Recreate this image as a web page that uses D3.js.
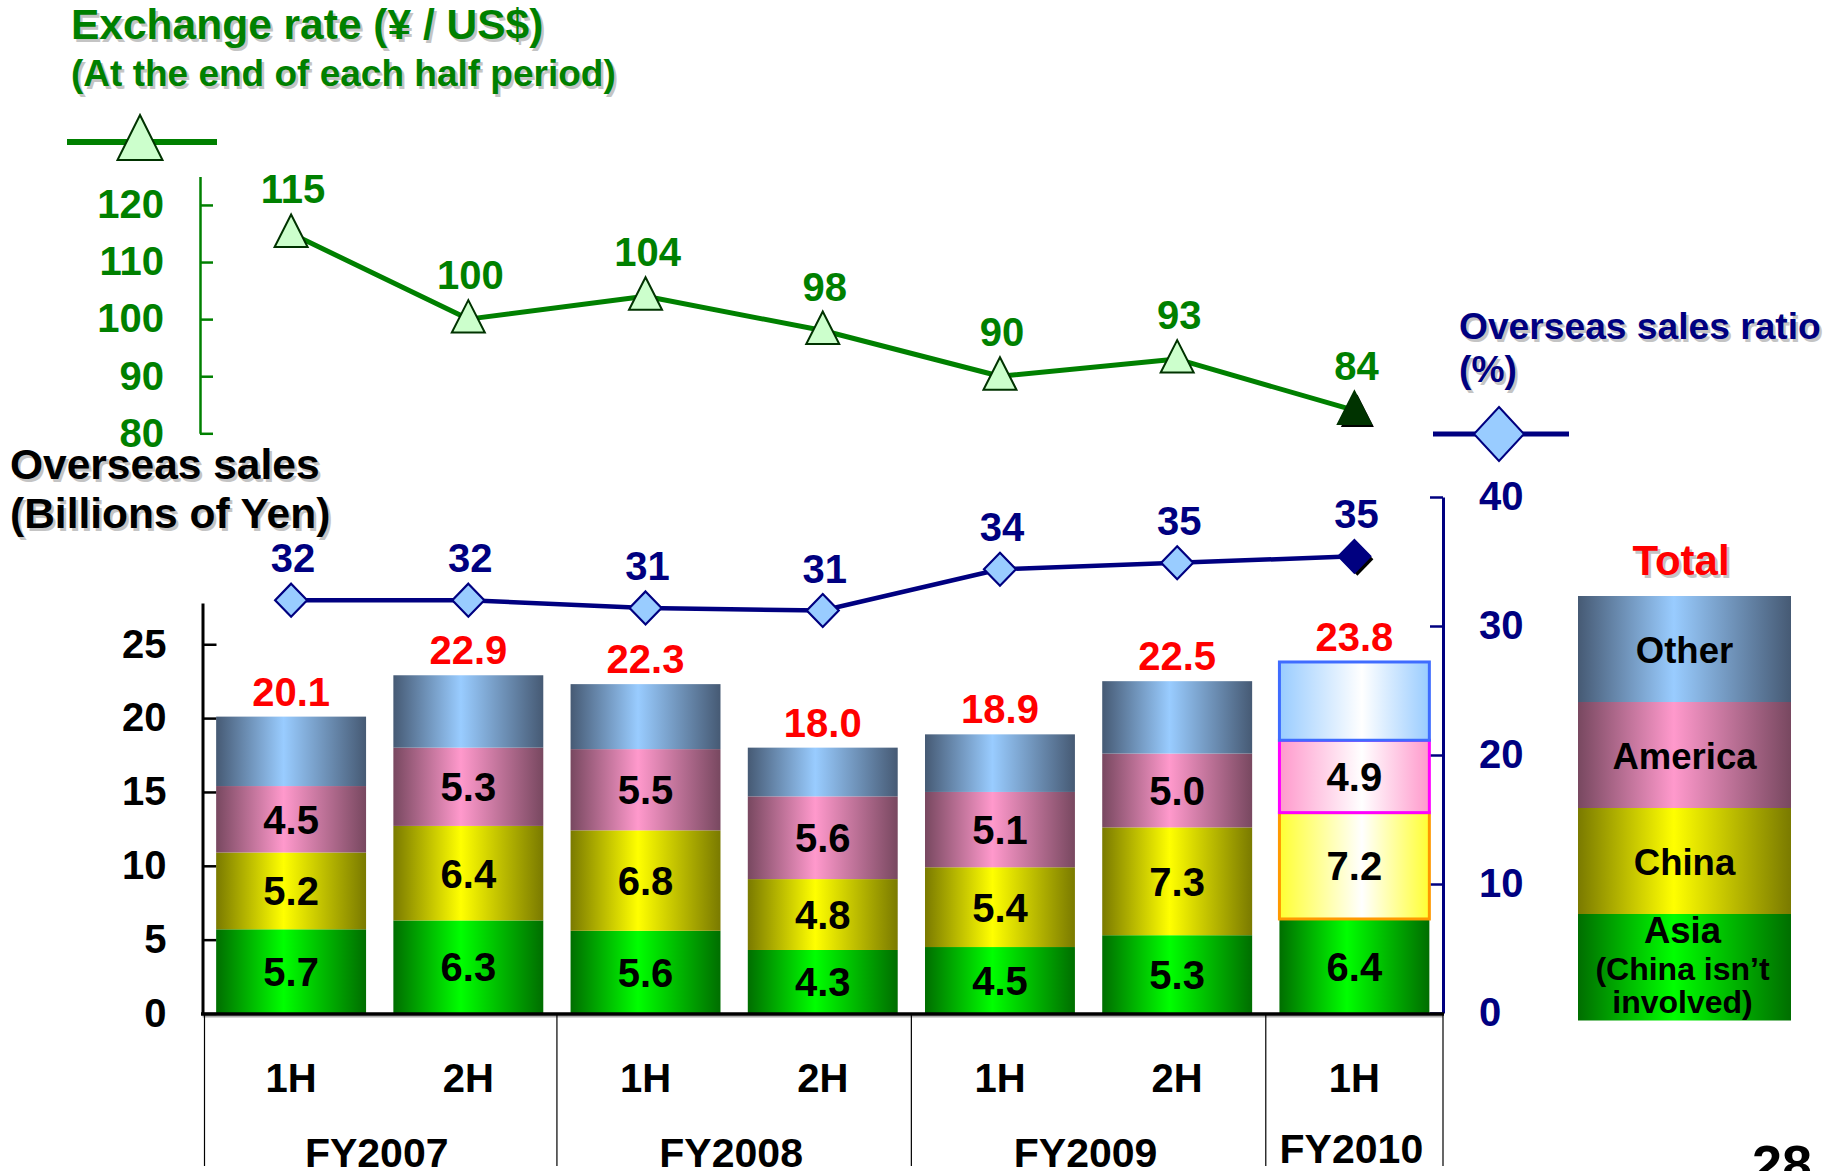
<!DOCTYPE html>
<html>
<head>
<meta charset="utf-8">
<script src="https://cdn.jsdelivr.net/npm/d3@7"></script>
<style>
  html, body { margin: 0; padding: 0; background: #ffffff; }
  svg { display: block; font-family: "Liberation Sans", Arial, Helvetica, sans-serif; font-weight: bold; }
</style>
</head>
<body>
<svg id="chart" width="1833" height="1171"></svg>
<script>
// ---- data ----
const periods = ["1H", "2H", "1H", "2H", "1H", "2H", "1H"];
const fiscalYears = ["FY2007", "FY2008", "FY2009", "FY2010"];
const fiscalSpans = [2, 2, 2, 1];

// Overseas sales by region (billions of yen)
const asia    = [5.7, 6.3, 5.6, 4.3, 4.5, 5.3, 6.4];
const china   = [5.2, 6.4, 6.8, 4.8, 5.4, 7.3, 7.2];
const america = [4.5, 5.3, 5.5, 5.6, 5.1, 5.0, 4.9];
const totals  = [20.1, 22.9, 22.3, 18.0, 18.9, 22.5, 23.8];

// Exchange rate (yen per US$) at the end of each half
const exchangeRate = [115, 100, 104, 98, 90, 93, 84];
// Overseas sales ratio (%)
const overseasRatio = [32.0, 32.0, 31.4, 31.2, 34.4, 34.9, 35.4];

const salesTicks = [0, 5, 10, 15, 20, 25];
const rateTicks  = [80, 90, 100, 110, 120];
const ratioTicks = [0, 10, 20, 30, 40];

const regionKeys   = ["asia", "china", "america", "other"];
const regionLabels = { other: ["Other"], america: ["America"], china: ["China"] };

// ---- colours ----
const GREEN = "#008000", NAVY = "#000080", RED = "#ff0000";
const shade = {
  asia:    { edge: "#006e00", mid: "#00ff00" },
  china:   { edge: "#7a7a00", mid: "#ffff00" },
  america: { edge: "#784860", mid: "#ff99cc" },
  other:   { edge: "#465a74", mid: "#99ccff" }
};
const latest = {
  china:   { edge: "#ffff33", stroke: "#ff9900" },
  america: { edge: "#ff99cc", stroke: "#ff00ff" },
  other:   { edge: "#99ccff", stroke: "#3f6cff" }
};

const svg = d3.select("#chart");
const defs = svg.append("defs");

regionKeys.forEach(k => {
  const g = defs.append("linearGradient").attr("id", "g-" + k)
    .attr("x1", 0).attr("x2", 1).attr("y1", 0).attr("y2", 0);
  g.append("stop").attr("offset", "0%").attr("stop-color", shade[k].edge);
  g.append("stop").attr("offset", "45%").attr("stop-color", shade[k].mid);
  g.append("stop").attr("offset", "100%").attr("stop-color", shade[k].edge);
});
Object.keys(latest).forEach(k => {
  const g = defs.append("linearGradient").attr("id", "h-" + k)
    .attr("x1", 0).attr("x2", 1).attr("y1", 0).attr("y2", 0);
  g.append("stop").attr("offset", "0%").attr("stop-color", latest[k].edge);
  g.append("stop").attr("offset", "55%").attr("stop-color", "#ffffff");
  g.append("stop").attr("offset", "100%").attr("stop-color", latest[k].edge);
});

// ---- scales ----
const x = d3.scaleBand().domain(d3.range(periods.length))
  .range([202.5, 1443]).paddingInner(0.154).paddingOuter(0.077);
const cx = i => x(i) + x.bandwidth() / 2;
const ySales = d3.scaleLinear().domain([0, 27.8]).range([1013.5, 1013.5 - 27.8 * 14.77]);
const yRate  = d3.scaleLinear().domain([80, 125]).range([433.3, 176.4]);
const yRatio = d3.scaleLinear().domain([0, 40]).range([1013, 497]);

// text with a soft grey drop shadow
function shadowText(parent, str, px, py, size, color, anchor) {
  [["#c4c4c4", 2.5], [color, 0]].forEach(([c, o]) => {
    parent.append("text").attr("x", px + o).attr("y", py + o)
      .attr("font-size", size).attr("fill", c)
      .attr("text-anchor", anchor || "start").text(str);
  });
}

// ---- titles ----
shadowText(svg, "Exchange rate (¥ / US$)", 71, 39, 42.5, GREEN);
shadowText(svg, "(At the end of each half period)", 71, 86, 37, GREEN);
shadowText(svg, "Overseas sales", 10, 479, 42.5, "#000000");
shadowText(svg, "(Billions of Yen)", 10, 528, 42.5, "#000000");
shadowText(svg, "Overseas sales ratio", 1459, 339, 37.2, NAVY);
shadowText(svg, "(%)", 1459, 382, 37.2, NAVY);
shadowText(svg, "Total", 1681, 575, 42, RED, "middle");

// ---- legend glyphs for the two lines ----
const tri = (px, py, w, up, down) =>
  `M${px},${py - up}L${px + w / 2},${py + down}L${px - w / 2},${py + down}Z`;
const dia = (px, py, hw, hh) =>
  `M${px},${py - hh}L${px + hw},${py}L${px},${py + hh}L${px - hw},${py}Z`;

svg.append("line").attr("x1", 67).attr("x2", 217).attr("y1", 142).attr("y2", 142)
  .attr("stroke", GREEN).attr("stroke-width", 6);
svg.append("path").attr("d", tri(140, 142, 45, 27, 18))
  .attr("fill", "#ccffcc").attr("stroke", "#003300").attr("stroke-width", 2);

svg.append("line").attr("x1", 1433).attr("x2", 1569).attr("y1", 434).attr("y2", 434)
  .attr("stroke", NAVY).attr("stroke-width", 5);
svg.append("path").attr("d", dia(1499, 434, 25, 27))
  .attr("fill", "#99ccff").attr("stroke", NAVY).attr("stroke-width", 2);

// ---- axes ----
function styleAxis(g, color, width, tickWidth) {
  g.attr("font-family", null).attr("font-size", 40).attr("font-weight", "bold");
  g.select(".domain").attr("stroke", color).attr("stroke-width", width);
  g.selectAll(".tick line").attr("stroke", color).attr("stroke-width", tickWidth);
  g.selectAll(".tick text").attr("fill", color);
}

const rateAxis = svg.append("g").attr("transform", "translate(200,0)")
  .call(d3.axisLeft(yRate).tickValues(rateTicks).tickSizeInner(-13).tickSizeOuter(0).tickPadding(36));
styleAxis(rateAxis, GREEN, 2.5, 2.5);

const salesAxis = svg.append("g").attr("transform", "translate(202.5,0)")
  .call(d3.axisLeft(ySales).tickValues(salesTicks).tickSizeInner(-14).tickSizeOuter(0).tickPadding(36));
styleAxis(salesAxis, "#000000", 3, 2.5);

const ratioAxis = svg.append("g").attr("transform", "translate(1443,0)")
  .call(d3.axisRight(yRatio).tickValues(ratioTicks).tickSizeInner(-13).tickSizeOuter(0).tickPadding(36));
styleAxis(ratioAxis, NAVY, 3, 2.5);

// ---- stacked bars ----
const rows = periods.map((p, i) => ({
  asia: asia[i], china: china[i], america: america[i],
  other: totals[i] - asia[i] - china[i] - america[i]
}));
const layers = d3.stack().keys(regionKeys)(rows);
const last = periods.length - 1;
const barG = svg.append("g");

layers.forEach(layer => {
  const k = layer.key;
  barG.selectAll(null).data(layer).join("rect")
    .attr("x", (d, i) => x(i))
    .attr("width", x.bandwidth())
    .attr("y", d => ySales(d[1]))
    .attr("height", d => ySales(d[0]) - ySales(d[1]))
    .attr("fill", (d, i) => (i === last && latest[k]) ? `url(#h-${k})` : `url(#g-${k})`)
    .attr("stroke", (d, i) => (i === last && latest[k]) ? latest[k].stroke : "none")
    .attr("stroke-width", 3);
});

// segment values (Other carries no label)
layers.filter(l => l.key !== "other").forEach(layer => {
  barG.selectAll(null).data(layer).join("text")
    .attr("x", (d, i) => cx(i))
    .attr("y", d => (ySales(d[0]) + ySales(d[1])) / 2)
    .attr("dy", "0.36em")
    .attr("text-anchor", "middle")
    .attr("font-size", 40)
    .attr("fill", "#000000")
    .text((d, i) => d3.format(".1f")(d.data[layer.key]));
});

// totals
barG.selectAll(null).data(totals).join("text")
  .attr("x", (d, i) => cx(i))
  .attr("y", d => ySales(d) - 11)
  .attr("text-anchor", "middle")
  .attr("font-size", 40)
  .attr("fill", RED)
  .text(d => d3.format(".1f")(d));

// baseline
svg.append("line").attr("x1", 202.5).attr("x2", 1443).attr("y1", 1016.5).attr("y2", 1016.5)
  .attr("stroke", "#b0b0b0").attr("stroke-width", 2);
svg.append("line").attr("x1", 201).attr("x2", 1444).attr("y1", 1014).attr("y2", 1014)
  .attr("stroke", "#000000").attr("stroke-width", 3.5);

// ---- category axis ----
const bounds = [0];
fiscalSpans.forEach(s => bounds.push(bounds[bounds.length - 1] + s));
bounds.forEach(b => {
  const bx = b === 0 ? 204.5 : x.range()[0] + b * x.step();
  svg.append("line").attr("x1", bx).attr("x2", bx).attr("y1", 1015).attr("y2", 1166)
    .attr("stroke", "#000000").attr("stroke-width", 1.2);
});
svg.append("g").selectAll("text").data(periods).join("text")
  .attr("x", (d, i) => cx(i)).attr("y", 1092)
  .attr("text-anchor", "middle").attr("font-size", 40).attr("fill", "#000000")
  .text(d => d);
svg.append("g").selectAll("text").data(fiscalYears).join("text")
  .attr("x", (d, i) => x.range()[0] + (bounds[i] + bounds[i + 1]) / 2 * x.step() - 3)
  .attr("y", (d, i) => i === fiscalYears.length - 1 ? 1163 : 1167)
  .attr("text-anchor", "middle").attr("font-size", 41).attr("fill", "#000000")
  .text(d => d);

// ---- exchange rate line ----
const ratePts = exchangeRate.map((v, i) => [cx(i), yRate(v)]);
svg.append("path").attr("d", d3.line()(ratePts))
  .attr("fill", "none").attr("stroke", GREEN).attr("stroke-width", 5).attr("stroke-linejoin", "round");
ratePts.forEach(([px, py], i) => {
  if (i === last) {
    svg.append("path").attr("d", tri(px + 3, py + 3, 33, 19, 13.5)).attr("fill", "#000000");
    svg.append("path").attr("d", tri(px, py, 33, 19, 13.5))
      .attr("fill", "#003300").attr("stroke", "#003300").attr("stroke-width", 2);
  } else {
    svg.append("path").attr("d", tri(px, py, 33, 19, 13.5))
      .attr("fill", "#ccffcc").attr("stroke", "#003300").attr("stroke-width", 2);
  }
});
svg.append("g").selectAll("text").data(exchangeRate).join("text")
  .attr("x", (d, i) => cx(i) + 2).attr("y", d => yRate(d) - 30)
  .attr("text-anchor", "middle").attr("font-size", 40).attr("fill", GREEN)
  .text(d => d);

// ---- overseas ratio line ----
const ratioPts = overseasRatio.map((v, i) => [cx(i), yRatio(v)]);
svg.append("path").attr("d", d3.line()(ratioPts))
  .attr("fill", "none").attr("stroke", NAVY).attr("stroke-width", 4.5).attr("stroke-linejoin", "round");
ratioPts.forEach(([px, py], i) => {
  if (i === last) {
    svg.append("path").attr("d", dia(px + 3, py + 3, 16, 16.5)).attr("fill", "#000000");
    svg.append("path").attr("d", dia(px, py, 16, 16.5))
      .attr("fill", NAVY).attr("stroke", NAVY).attr("stroke-width", 2);
  } else {
    svg.append("path").attr("d", dia(px, py, 16, 16.5))
      .attr("fill", "#99ccff").attr("stroke", NAVY).attr("stroke-width", 2.2);
  }
});
svg.append("g").selectAll("text").data(overseasRatio).join("text")
  .attr("x", (d, i) => cx(i) + 2).attr("y", d => yRatio(d) - 28)
  .attr("text-anchor", "middle").attr("font-size", 40).attr("fill", NAVY)
  .text(d => d3.format(".0f")(d));

// ---- region legend (stacked swatch) ----
const legendTop = 596, legendH = 106, legendX = 1578, legendW = 213;
const legendOrder = ["other", "america", "china", "asia"];
const leg = svg.append("g");
leg.selectAll("rect").data(legendOrder).join("rect")
  .attr("x", legendX).attr("width", legendW)
  .attr("y", (d, i) => legendTop + i * legendH)
  .attr("height", legendH + 0.5)
  .attr("fill", d => `url(#g-${d})`);
leg.selectAll("text.lab").data(legendOrder.filter(d => regionLabels[d])).join("text")
  .attr("class", "lab")
  .attr("x", legendX + legendW / 2)
  .attr("y", (d, i) => legendTop + i * legendH + 67)
  .attr("text-anchor", "middle").attr("font-size", 36.5).attr("fill", "#000000")
  .text(d => regionLabels[d][0]);
const asiaLines = [["Asia", 943, 36.5], ["(China isn’t", 980, 32], ["involved)", 1013, 32]];
leg.selectAll("text.asia").data(asiaLines).join("text")
  .attr("class", "asia")
  .attr("x", legendX + legendW / 2 - 2).attr("y", d => d[1])
  .attr("text-anchor", "middle").attr("font-size", d => d[2]).attr("fill", "#000000")
  .text(d => d[0]);

// page number
svg.append("text").attr("x", 1752).attr("y", 1183).attr("font-size", 54).attr("fill", "#000000").text("28");
</script>
</body>
</html>
